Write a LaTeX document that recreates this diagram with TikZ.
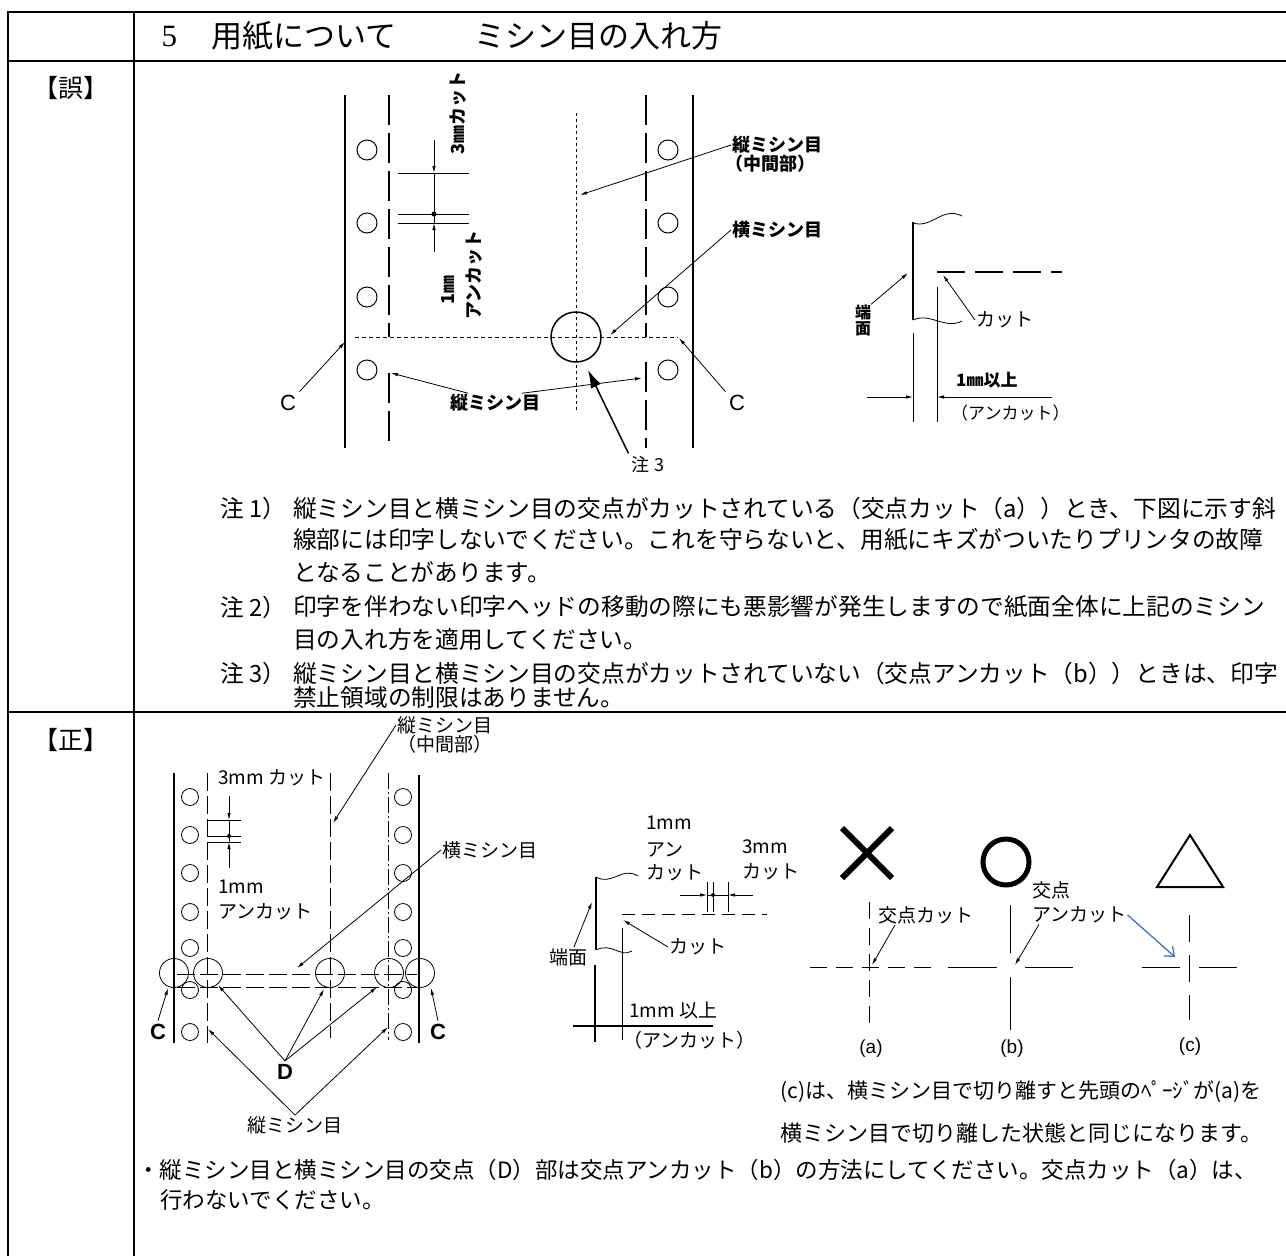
\documentclass[tikz,border=0pt]{standalone}
\usepackage{fontspec}
\setmainfont{Noto Sans CJK JP}
\newfontfamily\arial{Liberation Sans}
\newfontfamily\serifnum{Liberation Serif}
\usetikzlibrary{arrows.meta}
\definecolor{arrowblue}{RGB}{68,114,196}
\newcommand\setfs[1]{\fontsize{#1}{#1}\selectfont}

\begin{document}
\begin{tikzpicture}[x=1pt,y=-1pt,
  tblline/.style={line width=2pt},
  papr/.style={line width=2.5pt},
  perf/.style={line width=2.5pt,dash pattern=on 30pt off 8pt},
  hair/.style={line width=0.8pt},
  hole/.style={line width=1pt},
  ldr/.style={hair,-{Latex[length=7pt,width=3.5pt]}},
  jlbl/.style={font=\bfseries\setfs{18},inner sep=1pt},
  glbl/.style={font=\setfs{19},inner sep=1pt},
  alph/.style={font=\arial\setfs{19}},
  notetxt/.style={font=\setfs{23.7},anchor=west,inner sep=0pt}]
  \useasboundingbox (0,0) rectangle (1286,1256);
  \draw[tblline] (8,1256) -- (8,12) -- (1286,12);
  \draw[tblline] (8,61) -- (1286,61);
  \draw[tblline] (8,712) -- (1286,712);
  \draw[tblline] (134,12) -- (134,1256);
  \node[anchor=west,font=\serifnum\setfs{31}] (tnum) at (158,36) {5};
  \node[anchor=west,font=\setfs{31}] (ttl1) at (208,36) {用紙について};
  \node[anchor=west,font=\setfs{31}] (ttl2) at (471,36) {ミシン目の入れ方};
  \node[font=\setfs{25}] (ng) at (71,88) {【誤】};
  \node[font=\setfs{25}] (ok) at (71,740) {【正】};

  \draw[papr] (345,95) -- (345,448) (693,95) -- (693,448);
  \draw[perf] (389,95) -- (389,337) (389,373) -- (389,448);
  \draw[perf] (646,95) -- (646,337) (646,362) -- (646,448);
  \foreach \y in {150,223,297,370}
    \draw[hole] (367,\y) circle[radius=10pt] (668,\y) circle[radius=10pt];
  \draw[hair,dash pattern=on 3pt off 3pt] (576,113) -- (576,412);
  \draw[hair,dash pattern=on 4pt off 3pt] (355,337) -- (678,337);
  \draw[line width=1.5pt] (576,337) circle[radius=25pt];
  \draw[hair] (398,173) -- (469,173) (398,214) -- (469,214) (398,223) -- (469,223);
  \coordinate (cutA) at (434,173);
  \coordinate (uncutA) at (434,223);
  \draw[ldr] (434,140) -- (cutA);
  \draw[ldr] (434,252) -- (uncutA);
  \draw[hair] (cutA) -- (uncutA);
  \fill (434,214) circle[radius=2.5pt];
  \node[jlbl,rotate=90] (cut3A) at (458,113) {3㎜カット};
  \node[jlbl,rotate=90] (mm1A) at (448,290) {1㎜};
  \node[jlbl,rotate=90] (uncut1A) at (474,275) {アンカット};
  \node[font=\arial\setfs{22}] (cA) at (288,403) {C};
  \coordinate (cAt) at (345,342);
  \draw[ldr] (cA.north east) -- (cAt);
  \node[font=\arial\setfs{22}] (cB) at (737,403) {C};
  \coordinate (cBt) at (679,338);
  \draw[ldr] (cB.north west) -- (cBt);
  \node[jlbl] (tateA) at (495,403) {縦ミシン目};
  \coordinate (tateAl) at (391,373);
  \coordinate (tateAr) at (642,378);
  \draw[ldr] (tateA.160) -- (tateAl);
  \draw[ldr] (tateA.20) -- (tateAr);
  \node[font=\setfs{18}] (note3) at (648,465) {注 3};
  \coordinate (note3t) at (588,370);
  \draw[line width=1.5pt,-{Latex[length=18pt,width=11pt]}] (note3.north west) -- (note3t);
  \node[jlbl,anchor=west] (midA) at (731,145) {縦ミシン目};
  \node[jlbl,anchor=west] (midAp) at (724,164) {（中間部）};
  \coordinate (midAt) at (580,195);
  \draw[ldr] (midA.west) -- (midAt);
  \node[jlbl,anchor=west] (yokoA) at (731,230) {横ミシン目};
  \coordinate (yokoAt) at (610,335);
  \draw[ldr] (yokoA.west) -- (yokoAt);

  \draw[papr] (913,222) -- (913,320);
  \draw[hair] (913,223) .. controls (932,229) and (942,206) .. (962,216);
  \draw[hair] (913,320) .. controls (930,312) and (945,330) .. (962,321);
  \draw[papr,dash pattern=on 28pt off 10pt] (937,272) -- (1062,272);
  \node[font=\bfseries\setfs{16},align=center,inner sep=0pt] (endA) at (863,320) {端\\面};
  \coordinate (endAt) at (908,273);
  \draw[ldr] (endA.north east) -- (endAt);
  \node[glbl,anchor=west] (cutA2) at (975,320) {カット};
  \coordinate (cutA2t) at (943,275);
  \draw[ldr] (cutA2.west) -- (cutA2t);
  \draw[hair] (913,333) -- (913,422) (937,287) -- (937,422);
  \coordinate (gapL) at (913,397);
  \coordinate (gapR) at (937,397);
  \draw[ldr] (867,397) -- (gapL);
  \draw[ldr] (1052,397) -- (gapR);
  \node[jlbl,anchor=west,font=\bfseries\setfs{17}] (overA) at (955,380) {1㎜以上};
  \node[glbl,anchor=west,font=\setfs{17}] (uncutA2) at (950,413) {（アンカット）};

  \node[notetxt] (n1) at (220,508) {注 1）};
  \node[notetxt] (n1a) at (293,508) {縦ミシン目と横ミシン目の交点がカットされている（交点カット（a））とき、下図に示す斜};
  \node[notetxt] (n1b) at (293,540) {線部には印字しないでください。これを守らないと、用紙にキズがついたりプリンタの故障};
  \node[notetxt] (n1c) at (293,572) {となることがあります。};
  \node[notetxt] (n2) at (220,607) {注 2）};
  \node[notetxt] (n2a) at (293,607) {印字を伴わない印字ヘッドの移動の際にも悪影響が発生しますので紙面全体に上記のミシン};
  \node[notetxt] (n2b) at (293,640) {目の入れ方を適用してください。};
  \node[notetxt] (n3) at (220,673) {注 3）};
  \node[notetxt] (n3a) at (293,673) {縦ミシン目と横ミシン目の交点がカットされていない（交点アンカット（b））ときは、印字};
  \node[notetxt] (n3b) at (293,698) {禁止領域の制限はありません。};

  \draw[papr] (174,773) -- (174,1043) (419,775) -- (419,1043);
  \foreach \y in {797,835,873,912,948,990,1032}
    \draw[hair] (190,\y) circle[radius=8.5pt] (403,\y) circle[radius=8.5pt];
  \draw[hair,dash pattern=on 18pt off 5pt] (207,773) -- (207,1043) (330,773) -- (330,1038);
  \draw[hair,dash pattern=on 16pt off 3pt on 2pt off 3pt] (388,773) -- (388,1040);
  \draw[hair,dash pattern=on 18pt off 5pt] (177,974) -- (417,974) (177,987) -- (417,987);
  \foreach \x in {174,208,330,389,420}
    \draw[hair] (\x,973) circle[radius=14.5pt];
  \draw[hair] (208,820) -- (241,820) (208,836) -- (241,836) (208,842) -- (241,842);
  \coordinate (cutB) at (229,820);
  \coordinate (uncutB) at (229,842);
  \draw[ldr] (229,796) -- (cutB);
  \draw[ldr] (229,868) -- (uncutB);
  \draw[hair] (cutB) -- (uncutB);
  \fill (229,836) circle[radius=2pt];
  \node[glbl,anchor=west] (cut3B) at (217,778) {3mm カット};
  \node[glbl,anchor=west] (mm1B) at (217,887) {1mm};
  \node[glbl,anchor=west] (uncut1B) at (217,912) {アンカット};
  \node[glbl,anchor=west] (midB) at (396,725) {縦ミシン目};
  \node[glbl,anchor=west] (midBp) at (396,744) {（中間部）};
  \coordinate (midBt) at (333,823);
  \draw[ldr] (midB.west) -- (midBt);
  \node[glbl,anchor=west] (yokoB) at (441,850) {横ミシン目};
  \coordinate (yokoBt) at (297,968);
  \draw[ldr] (yokoB.west) -- (yokoBt);
  \node[font=\arial\bfseries\setfs{22}] (cC) at (158,1032) {C};
  \coordinate (cCt) at (168,988);
  \draw[ldr] (cC.north) -- (cCt);
  \node[font=\arial\bfseries\setfs{22}] (cD) at (438,1032) {C};
  \coordinate (cDt) at (431,988);
  \draw[ldr] (cD.north) -- (cDt);
  \node[font=\arial\bfseries\setfs{22}] (dB) at (285,1072) {D};
  \coordinate (dB1) at (218,985);
  \coordinate (dB2) at (324,989);
  \coordinate (dB3) at (377,987);
  \foreach \tgt in {dB1,dB2,dB3}
    \draw[ldr] (dB.north) -- (\tgt);
  \node[glbl] (tateB) at (295,1125) {縦ミシン目};
  \coordinate (tateBl) at (208,1029);
  \coordinate (tateBr) at (388,1027);
  \draw[ldr] (tateB.north) -- (tateBl);
  \draw[ldr] (tateB.north) -- (tateBr);

  \node[glbl,anchor=west] (mm1C) at (645,823) {1mm};
  \node[glbl,anchor=west] (anC) at (645,850) {アン};
  \node[glbl,anchor=west] (katC) at (645,873) {カット};
  \node[glbl,anchor=west] (mm3C) at (741,847) {3mm};
  \node[glbl,anchor=west] (cutC) at (741,872) {カット};
  \draw[papr] (596,877) -- (596,950);
  \draw[hair] (596,877) .. controls (612,886) and (622,866) .. (638,876);
  \draw[hair] (596,950) .. controls (612,942) and (620,958) .. (632,951);
  \node[glbl,anchor=west] (endC) at (548,957) {端面};
  \coordinate (endCt) at (592,902);
  \draw[ldr] (endC.60) -- (endCt);
  \draw[hair,dash pattern=on 13pt off 7pt] (622,914) -- (767,914);
  \node[glbl,anchor=west] (cutC2) at (668,947) {カット};
  \coordinate (cutC2t) at (623,920);
  \draw[ldr] (cutC2.west) -- (cutC2t);
  \draw[hair] (707,882) -- (707,912) (713,882) -- (713,912) (728,882) -- (728,912);
  \coordinate (gapC1) at (707,895);
  \coordinate (gapC2) at (728,895);
  \draw[ldr] (680,895) -- (gapC1);
  \draw[ldr] (753,895) -- (gapC2);
  \draw[hair] (gapC1) -- (gapC2);
  \fill (713,895) circle[radius=2pt];
  \draw[hair] (622,928) -- (622,1040);
  \draw[papr] (595,965) -- (595,1042) (573,1026) -- (713,1026);
  \node[glbl,anchor=west] (overC) at (628,1010) {1mm 以上};
  \node[glbl,anchor=west] (uncutC) at (622,1040) {（アンカット）};

  \draw[line width=6pt] (842,828) -- (892,878) (842,878) -- (892,828);
  \draw[line width=5pt] (1006,862) circle[radius=23pt];
  \draw[line width=2pt] (1190,835) -- (1157,887) -- (1223,887) -- cycle;
  \draw[hair,dash pattern=on 17pt off 9pt] (869,902) -- (869,1028) (810,967) -- (937,967);
  \node[glbl,anchor=west] (xcut) at (877,915) {交点カット};
  \coordinate (xcutt) at (872,965);
  \draw[ldr] ([xshift=18pt]xcut.south west) -- (xcutt);
  \draw[hair] (1010,905) -- (1010,953) (1010,977) -- (1010,1030) (948,967) -- (997,967) (1025,967) -- (1073,967);
  \node[glbl,anchor=west] (xun1) at (1031,890) {交点};
  \node[glbl,anchor=west] (xun2) at (1031,915) {アンカット};
  \coordinate (xunt) at (1015,965);
  \draw[ldr] ([xshift=8pt]xun2.south west) -- (xunt);
  \draw[hair] (1189,915) -- (1189,942) (1189,955) -- (1189,982) (1189,995) -- (1189,1020) (1142,967) -- (1180,967) (1199,967) -- (1237,967);
  \coordinate (crossc) at (1175,957);
  \draw[arrowblue,line width=1.3pt,-{Straight Barb[length=8pt,width=13pt]}] (xun2.east) -- (crossc);
  \node[alph] (la) at (871,1049) {(a)};
  \node[alph] (lb) at (1012,1049) {(b)};
  \node[alph] (lc) at (1190,1047) {(c)};

  \node[anchor=west,inner sep=0pt,font=\setfs{21}] (rem1) at (780,1092) {(c)は、横ミシン目で切り離すと先頭のﾍﾟｰｼﾞが(a)を};
  \node[anchor=west,inner sep=0pt,font=\setfs{22}] (rem2) at (780,1133) {横ミシン目で切り離した状態と同じになります。};
  \node[anchor=west,inner sep=0pt,font=\setfs{22.5}] (rule1) at (137,1170) {・縦ミシン目と横ミシン目の交点（D）部は交点アンカット（b）の方法にしてください。交点カット（a）は、};
  \node[anchor=west,inner sep=0pt,font=\setfs{22.5}] (rule2) at (160,1200) {行わないでください。};
\end{tikzpicture}
\end{document}
